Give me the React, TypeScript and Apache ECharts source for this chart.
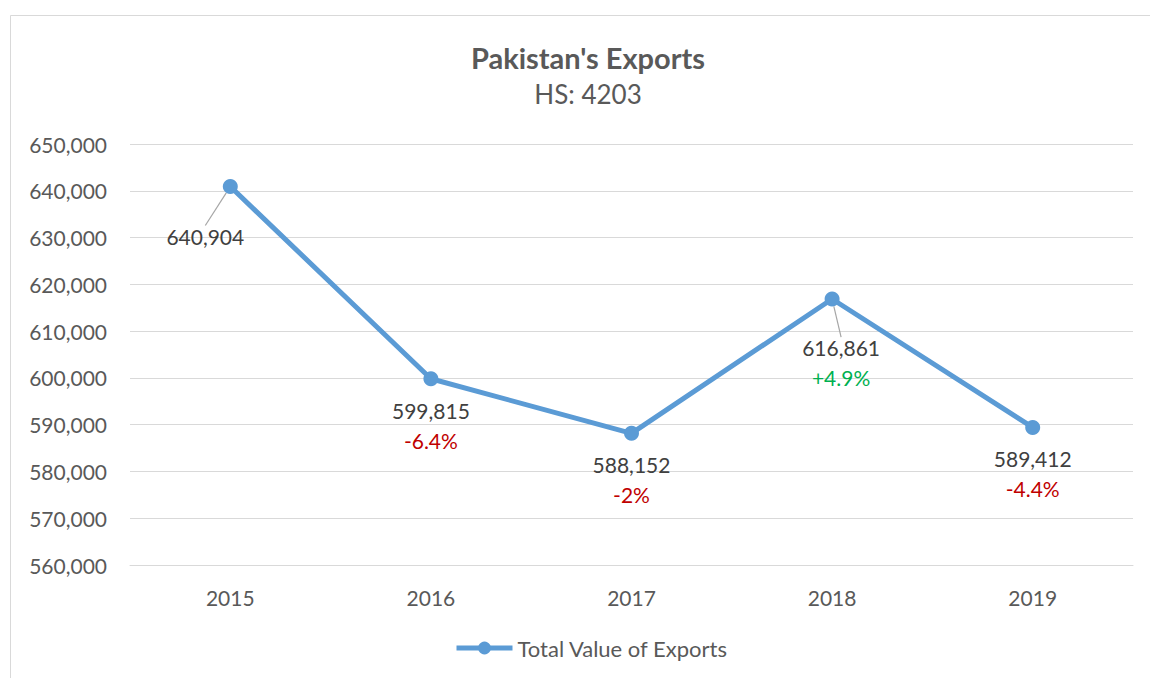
import React, { useEffect, useRef } from "react";
import * as echarts from "echarts";

const categories = ["2015", "2016", "2017", "2018", "2019"];
const values = [640904, 599815, 588152, 616861, 589412];
const changes = ["", "-6.4%", "-2%", "+4.9%", "-4.4%"];
const yMin = 560000;
const yMax = 650000;
const yInterval = 10000;
const titleText = "Pakistan's Exports";
const subtitleText = "HS: 4203";
const seriesName = "Total Value of Exports";

const FONT = "Lato, 'Open Sans', sans-serif";

function fmt(n: number) {
  return n.toLocaleString("en-US");
}

export default function App() {
  const ref = useRef<HTMLDivElement>(null);
  useEffect(() => {
    if (!ref.current) return;
    const chart = echarts.init(ref.current, undefined, { renderer: "svg" });
    const data = values.map((v, i) => {
      const ch = changes[i];
      const isUp = ch.startsWith("+");
      const hasLeader = i === 0 || i === 3;
      const formatter = ch
        ? `{v|${fmt(v)}}\n{${isUp ? "g" : "r"}|${ch}}`
        : `{v|${fmt(v)}}`;
      const item: any = {
        value: v,
        label: {
          formatter,
          offset: [0, -1],
          padding: 0,
        },
      };
      if (hasLeader) {
        item.label.offset = i === 0 ? [-25, 5] : [9, 4];
        item.label.padding = [12, 0, 0, 0];
        item.labelLine = {
          show: true,
          length2: 0,
          lineStyle: { color: "#a6a6a6", width: 1.2 },
        };
      }
      return item;
    });
    chart.setOption({
      animation: false,
      textStyle: { fontFamily: FONT },
      graphic: [
        {
          type: "rect",
          shape: { x: 10.5, y: 15.5, width: 1300, height: 900 },
          style: { fill: "none", stroke: "#d9d9d9", lineWidth: 1 },
          silent: true,
          z: -10,
        },
        {
          type: "text",
          x: 588,
          y: 57,
          style: {
            text: titleText,
            fontFamily: FONT,
            fontSize: 29,
            fontWeight: "bold",
            fill: "#595959",
            textAlign: "center",
            textVerticalAlign: "middle",
          },
        },
        {
          type: "text",
          x: 588,
          y: 94,
          style: {
            text: subtitleText,
            fontFamily: FONT,
            fontSize: 26,
            fill: "#595959",
            textAlign: "center",
            textVerticalAlign: "middle",
          },
        },
      ],
      legend: {
        bottom: 14,
        left: 449,
        itemWidth: 56,
        itemHeight: 16,
        itemGap: 10,
        lineStyle: { width: 5 },
        textStyle: { fontSize: 22, color: "#595959", fontFamily: FONT },
        data: [seriesName],
      },
      grid: { left: 130, right: 17, top: 144, bottom: 113, containLabel: false },
      xAxis: {
        type: "category",
        data: categories,
        boundaryGap: true,
        axisLine: { show: true, lineStyle: { color: "#d9d9d9", width: 1 } },
        axisTick: { show: false },
        axisLabel: { fontSize: 21, color: "#595959", margin: 22, fontFamily: FONT },
      },
      yAxis: {
        type: "value",
        min: yMin,
        max: yMax,
        interval: yInterval,
        axisLine: { show: false },
        axisTick: { show: false },
        splitLine: { lineStyle: { color: "#d9d9d9", width: 1 } },
        axisLabel: {
          fontSize: 21,
          color: "#595959",
          margin: 23,
          fontFamily: FONT,
          formatter: (v: number) => fmt(v),
        },
      },
      series: [
        {
          name: seriesName,
          type: "line",
          data,
          symbol: "circle",
          symbolSize: 15,
          lineStyle: { color: "#5b9bd5", width: 5 },
          itemStyle: { color: "#5b9bd5" },
          label: {
            show: true,
            position: "bottom",
            align: "center",
            verticalAlign: "top",
            distance: 10,
            rich: {
              v: { fontSize: 21, color: "#404040", lineHeight: 30, fontFamily: FONT },
              r: { fontSize: 21, color: "#c00000", lineHeight: 30, fontFamily: FONT },
              g: { fontSize: 21, color: "#00b050", lineHeight: 30, fontFamily: FONT },
            },
          },
        },
      ],
    });
    return () => chart.dispose();
  }, []);
  return (
    <div
      ref={ref}
      style={{ position: "absolute", left: 0, top: 0, width: 1150, height: 678 }}
    />
  );
}
